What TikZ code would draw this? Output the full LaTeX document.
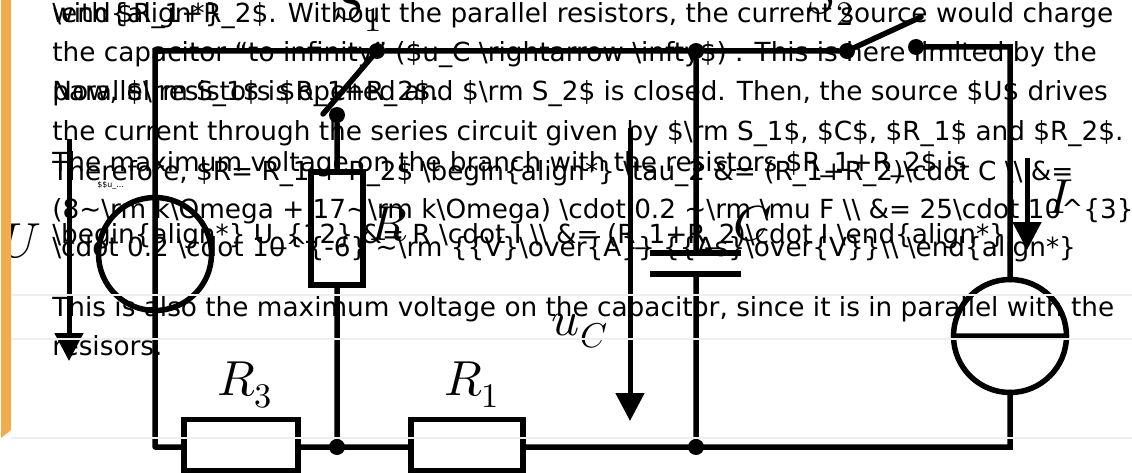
\documentclass[tikz,border=0pt]{standalone}
\usepackage{fontspec}
\setmainfont{DejaVu Sans}
\usepackage{unicode-math}
\setmathfont{Latin Modern Math}
\usetikzlibrary{arrows.meta}
\definecolor{barorange}{HTML}{F0AD4E}
\definecolor{rulegray}{HTML}{EEEEEE}
\newcommand{\bs}{\textbackslash{}}
\newcommand{\tld}{\textasciitilde{}}
\newcommand{\crt}{\textasciicircum{}}
\tikzset{
    wire/.style={line width=.11cm,line cap=round,line join=miter},
    junction/.style={circle,fill=black,inner sep=0pt,minimum size=.32cm},
    resistor/.style={draw,wire,fill=white,inner sep=0pt,outer sep=0pt,minimum width=2.28cm,minimum height=1.02cm},
    source/.style={draw,wire,circle,inner sep=0pt,outer sep=0pt,minimum size=2.26cm},
    plate/.style={line width=.12cm},
    para/.style={anchor=base west,inner sep=0pt,font=\fontsize{14.97pt}{18pt}\selectfont},
    symb/.style={inner sep=0pt,font=\fontsize{28pt}{30pt}\selectfont},
    rulethin/.style={rulegray,line width=.04cm}
}
\begin{document}
\begin{tikzpicture}[line join=round, x=.02cm, y=-.02cm, >={Triangle[length=.56cm,width=.56cm]}]
                \useasboundingbox (0,0) rectangle (1132,473);
                \fill[white] (0,0) rectangle (1132,473);
                % junctions
                \node[junction] (sa) at (377,51) {};
                \node[junction] (sb) at (337,115) {};
                \node[junction] (nc) at (696,51) {};
                \node[junction] (sc) at (847,51) {};
                \node[junction] (sd) at (916,47) {};
                \node[junction] (nb) at (337,447) {};
                \node[junction] (nd) at (696,447) {};
                \coordinate (tl) at (155,51);
                \coordinate (bl) at (155,447);
                \coordinate (tr) at (1010,47);
                \coordinate (br) at (1010,447);
                \coordinate (ea) at (323,114);
                \coordinate (ec) at (921,17);
                \coordinate (pa) at (696,253);
                \coordinate (pb) at (696,274);
                \coordinate (paa) at (650,253);
                \coordinate (pab) at (741,253);
                \coordinate (pba) at (650,274);
                \coordinate (pbb) at (741,274);
                % elements
                \node[source] (su) at (155,254) {};
                \node[source] (si) at (1010,336) {};
                % wires
                \draw[wire]
                (bl)--(tl)--(sa)--(nc)--(sc)--(ec)
                (sa)--(ea)
                (nc)--(pa)
                (pb)--(nd)
                (sd)--(tr)--(si.north)
                (si.south)--(br)--(bl)
                (sb)--(nb)
                (si.west)--(si.east)
                ;
                \draw[plate] (paa)--(pab) (pba)--(pbb);
                \node[resistor,minimum width=1.04cm,minimum height=2.26cm] (rr) at (337,228.5) {};
                \node[resistor] (rc) at (241,445) {};
                \node[resistor,minimum width=2.24cm] (ra) at (467,445) {};
                % counting arrows
                \coordinate (ua) at (69,139);
                \coordinate (ub) at (69,361);
                \coordinate (uca) at (630,128);
                \coordinate (ucb) at (630,421);
                \coordinate (ia) at (1027,158);
                \coordinate (ib) at (1027,250);
                \draw[->,line width=.1cm] (ua)--(ub);
                \draw[->,line width=.1cm] (uca)--(ucb);
                \draw[->,line width=.1cm] (ia)--(ib);
                % labels
                \node[symb] (lu) at (22,241) {$U$};
                \node[symb] (lr) at (389,224) {$R$};
                \node[symb] (lcc) at (753,224) {$C$};
                \node[symb] (li) at (1060,197) {$I$};
                \node[symb] (lsa) at (358,8) {$S_1$};
                \node[symb] (lsb) at (830,2) {$S_2$};
                \node[symb] (lrc) at (245,385) {$R_3$};
                \node[symb] (lra) at (472,385) {$R_1$};
                \node[symb] (luc) at (580,331) {$u_C$};
                % page chrome
                \fill[barorange] (1,0)--(11,0)--(11,430)--(1,438)--cycle;
                \draw[rulethin]
                (11,295)--(1132,295)
                (11,339)--(1132,339)
                (11,438)--(1132,438)
                ;
                % text lines
                \node[para] (ta) at (52,23) {with \$R\_1+R\_2\$. Without the parallel resistors, the current source would charge};
                \node[para] (tb) at (52,62) {the capacitor “to infinity” (\$u\_C \bs rightarrow \bs infty\$) . This is here limited by the};
                \node[para] (tc) at (52,101) {Now, \$\bs rm S\_1\$ is opened and \$\bs rm S\_2\$ is closed. Then, the source \$U\$ drives};
                \node[para] (td) at (52,140) {the current through the series circuit given by \$\bs rm S\_1\$, \$C\$, \$R\_1\$ and \$R\_2\$.};
                \node[para] (te) at (52,180) {Therefore, \$R= R\_1 + R\_2\$ \bs begin\{align*\} \bs tau\_2 \&= (R\_1+R\_2)\bs cdot C \bs\bs{} \&=};
                \node[para] (tf) at (52,218) {(8\tld\bs rm k\bs Omega + 17\tld\bs rm k\bs Omega) \bs cdot 0.2 \tld\bs rm \bs mu F \bs\bs{} \&= 25\bs cdot 10\crt\{3\}};
                \node[para] (tg) at (52,256) {\bs cdot 0.2 \bs cdot 10\crt\{-6\} \tld\bs rm \{\{V\}\bs over\{A\}\} \{\{As\}\bs over\{V\}\}\bs\bs{} \bs end\{align*\}};
                \node[para] (th) at (52,316) {This is also the maximum voltage on the capacitor, since it is in parallel with the};
                \node[para] (ti) at (52,355) {resisors.};
                \node[para] (tj) at (52,23) {\bs end\{align*\}};
                \node[para] (tk) at (52,101) {parallel resistors \$R\_1+R\_2\$.};
                \node[para] (tm0) at (52,171) {The maximum voltage on the branch with the resistors \$R\_1+R\_2\$ is};
                \node[para] (tm) at (52,243) {\bs begin\{align*\} U\_\{12\} \&= R \bs cdot I \bs\bs{} \&= (R\_1+R\_2)\bs cdot I \bs end\{align*\}};
                \node[para,font=\fontsize{4.5pt}{5pt}\selectfont] (tn) at (97,187) {\$\$u\_...};
\end{tikzpicture}
\end{document}
